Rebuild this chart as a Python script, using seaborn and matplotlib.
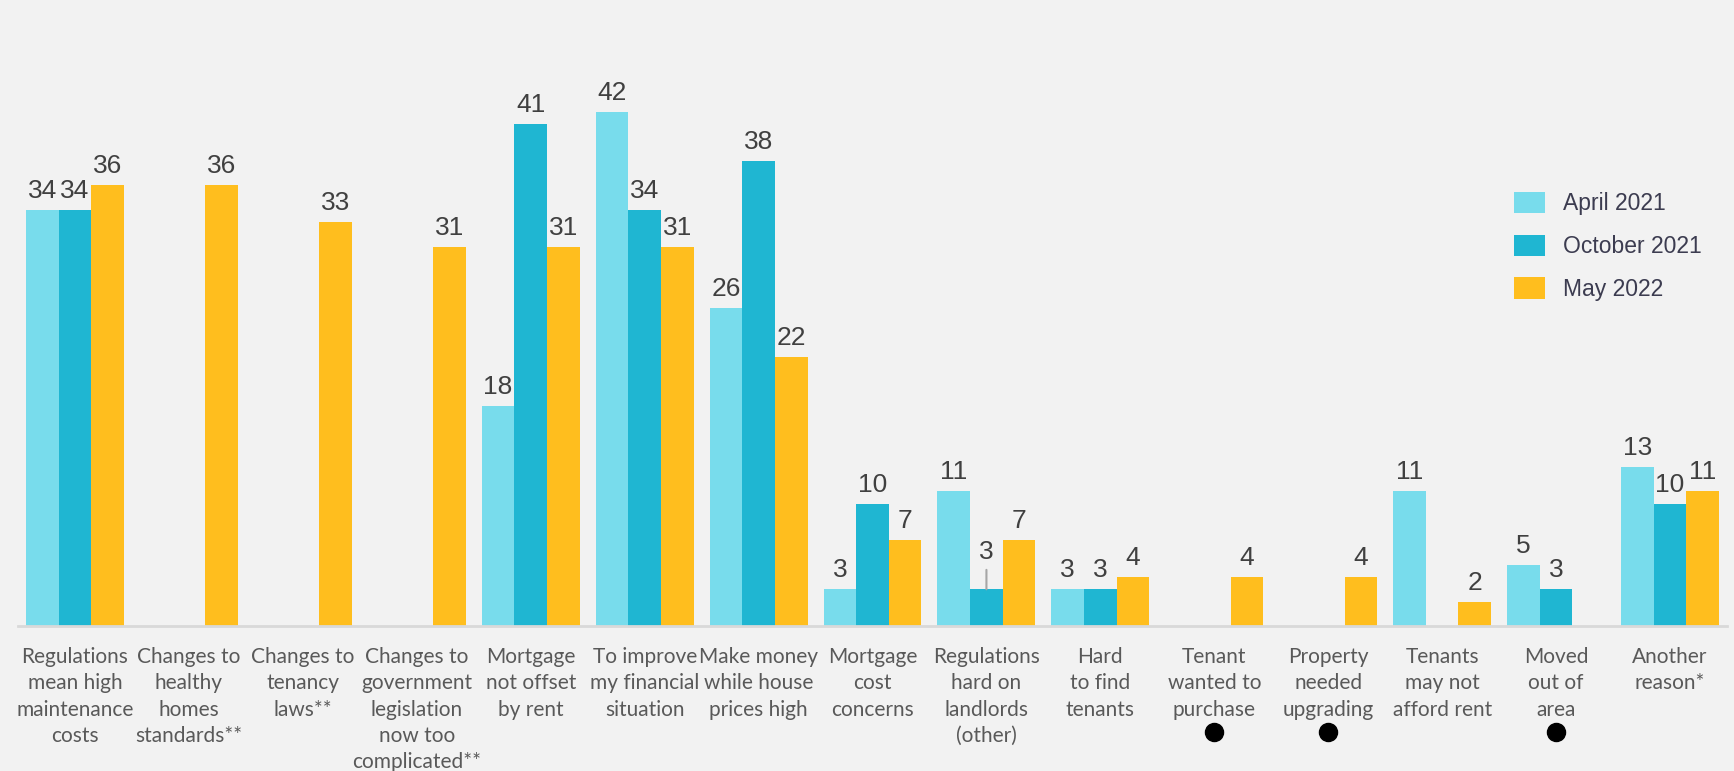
import numpy as np
import pandas as pd
import matplotlib
matplotlib.use("Agg")
import matplotlib.pyplot as plt
import matplotlib.transforms as mtransforms
from matplotlib.patches import Patch
import seaborn as sns

# Reasons for selling / leaving the rental market, by survey wave
reasons = [
    "Regulations\nmean high\nmaintenance\ncosts",
    "Changes to\nhealthy\nhomes\nstandards**",
    "Changes to\ntenancy\nlaws**",
    "Changes to\ngovernment\nlegislation\nnow too\ncomplicated**",
    "Mortgage\nnot offset\nby rent",
    "To improve\nmy financial\nsituation",
    "Make money\nwhile house\nprices high",
    "Mortgage\ncost\nconcerns",
    "Regulations\nhard on\nlandlords\n(other)",
    "Hard\nto find\ntenants",
    "Tenant\nwanted to\npurchase",
    "Property\nneeded\nupgrading",
    "Tenants\nmay not\nafford rent",
    "Moved\nout of\narea",
    "Another\nreason*",
]
waves = ["April 2021", "October 2021", "May 2022"]

# None = not asked in that wave
april_2021 = [34, None, None, None, 18, 42, 26, 3, 11, 3, None, None, 11, 5, 13]
october_2021 = [34, None, None, None, 41, 34, 38, 10, 3, 3, None, None, None, 3, 10]
may_2022 = [36, 36, 33, 31, 31, 31, 22, 7, 7, 4, 4, 4, 2, None, 11]

# Reasons flagged with a marker below the axis
flagged = ["Tenant\nwanted to\npurchase", "Property\nneeded\nupgrading", "Moved\nout of\narea"]

colors = ["#78dcec", "#1fb6d2", "#ffbe1e"]
bg = "#f2f2f2"

rows = []
for wave, vals in zip(waves, [april_2021, october_2021, may_2022]):
    for r, v in zip(reasons, vals):
        if v is not None:
            rows.append({"reason": r, "wave": wave, "value": v})
df = pd.DataFrame(rows)

sns.set_theme(style="white")
plt.rcParams["font.family"] = ["Liberation Sans", "DejaVu Sans"]

fig = plt.figure(figsize=(17.34, 7.71), dpi=100, facecolor=bg)
ax = fig.add_axes([18 / 1734, 145 / 771, 1709 / 1734, 587.5 / 771])
ax.set_facecolor(bg)

sns.barplot(
    data=df, x="reason", y="value", hue="wave",
    order=reasons, hue_order=waves, palette=colors,
    width=0.86, saturation=1, errorbar=None, legend=False,
    linewidth=0, edgecolor="none", ax=ax,
)

ax.set_xlim(-0.5, len(reasons) - 0.5)
ax.set_ylim(0, 48)

# value labels above each bar
label_kw = dict(ha="center", va="bottom", fontsize=19, color="#404040",
                textcoords="offset points")
for wi, container in enumerate(ax.containers):
    for bar in container:
        h = bar.get_height()
        if np.isnan(h):
            continue
        xc = bar.get_x() + bar.get_width() / 2
        ci = int(round(xc))
        if reasons[ci].startswith("Regulations\nhard") and waves[wi] == "October 2021":
            ax.annotate(f"{h:.0f}", xy=(xc, h), xytext=(0, 18), **label_kw)
            ax.annotate(
                "", xy=(xc, h), xytext=(0, 14), textcoords="offset points",
                arrowprops=dict(arrowstyle="-", color="#a6a6a6", lw=1.5,
                                shrinkA=0, shrinkB=0),
            )
        else:
            ax.annotate(f"{h:.0f}", xy=(xc, h), xytext=(0, 5), **label_kw)

# axis styling
for side in ["left", "right", "top"]:
    ax.spines[side].set_visible(False)
ax.spines["bottom"].set_color("#d9d9d9")
ax.spines["bottom"].set_linewidth(2)
ax.set_yticks([])
ax.set_xlabel("")
ax.set_ylabel("")
ax.set_xticks(range(len(reasons)))
ax.set_xticklabels(reasons, fontsize=15, color="#595959", family=["Lato", "DejaVu Sans"],
                   linespacing=1.4, va="top")
ax.tick_params(axis="x", which="major", length=0, pad=15)
ax.set_xticks(np.arange(-0.5, len(reasons), 1), minor=True)
ax.tick_params(axis="x", which="minor", length=7, width=2, color="#d9d9d9", direction="out")

# marker dots under flagged reasons
trans = mtransforms.blended_transform_factory(ax.transData, ax.transAxes)
fx = [reasons.index(f) for f in flagged]
ax.plot(fx, [-0.18] * len(fx), "o", color="black", markersize=13,
        transform=trans, clip_on=False)

handles = [Patch(facecolor=c, edgecolor="none") for c in colors]
fig.legend(
    handles, waves, loc="upper left", bbox_to_anchor=(1493 / 1734, 1 - 171 / 771),
    frameon=False, fontsize=16.5, labelcolor="#3c3c50",
    handlelength=1.35, handleheight=1.05, handletextpad=0.8, labelspacing=0.85,
)

fig.savefig("out.png", dpi=100, facecolor=bg)
